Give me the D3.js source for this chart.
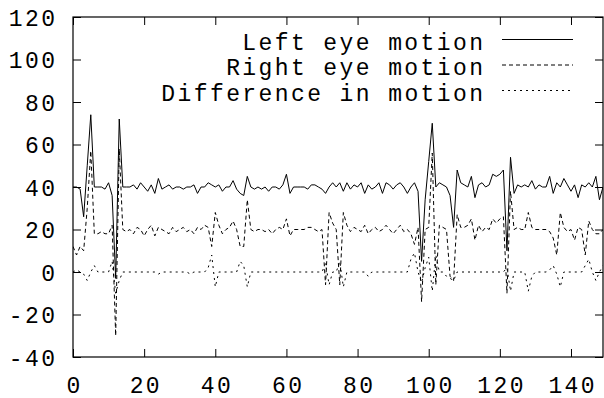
<!DOCTYPE html>
<html>
<head>
<meta charset="utf-8">
<script src="https://cdn.jsdelivr.net/npm/d3@7"></script>
<style>
  body { margin: 0; background: #fff; }
  text { font-family: "Liberation Mono", "DejaVu Sans Mono", monospace; }
</style>
</head>
<body>
<div id="chartContainer"></div>
<script>
var leftEye = [
  40, 40, 39, 26, 50, 74, 40, 40, 40, 39,
  42, 36, -3, 72, 40, 40, 40, 41, 39, 42,
  40, 38, 41, 37, 44, 39, 40, 41, 39, 40,
  40, 39, 40, 40, 41, 37, 40, 40, 42, 41,
  40, 41, 38, 40, 40, 43, 39, 37, 36, 45,
  40, 39, 40, 39, 40, 38, 40, 40, 39, 41,
  46, 37, 40, 40, 40, 40, 39, 41, 41, 40,
  39, 37, 40, 42, 40, 42, 38, 42, 39, 41,
  40, 42, 37, 41, 39, 40, 42, 37, 42, 41,
  39, 41, 42, 40, 37, 40, 42, 38, 5, 34,
  52, 70, 40, 42, 41, 40, 36, 21, 48, 42,
  41, 40, 45, 35, 41, 42, 40, 41, 46, 45,
  46, 48, 10, 54, 37, 41, 40, 41, 40, 43,
  39, 41, 40, 40, 45, 37, 42, 40, 44, 41,
  38, 41, 35, 41, 40, 42, 40, 45, 34, 40
];
var rightEye = [
  12, 8, 12, 10, 30, 57, 18, 18, 19, 18,
  18, 22, -30, 58, 20, 19, 20, 18, 21, 20,
  17, 20, 22, 17, 21, 20, 19, 18, 21, 19,
  20, 21, 19, 20, 18, 21, 20, 22, 21, 12,
  28, 22, 18, 20, 21, 24, 20, 12, 12, 34,
  20, 19, 20, 20, 19, 20, 18, 20, 21, 20,
  25, 17, 20, 20, 20, 20, 21, 21, 20, 19,
  20, -6, 28, 23, 20, -6, 28, 22, 19, 21,
  20, 19, 22, 18, 20, 21, 19, 20, 22, 20,
  18, 20, 22, 19, 20, 18, 13, 21, -14, 20,
  21, 56, -6, 22, 21, 20, -2, -4, 27, 21,
  21, 22, 25, 15, 22, 19, 21, 20, 25, 23,
  25, 26, -10, 38, 20, 21, 20, 20, 28, 21,
  20, 20, 20, 20, 19, 16, 8, 28, 21, 19,
  20, 15, 21, 20, 8, 24, 20, 18, 18, 20
];
var difference = [
  0, 1, 0, -1, -4, 0, 3, 0, 0, 0,
  0, 5, -10, -4, 0, 0, 0, 0, 0, 0,
  0, 0, 0, 0, -1, 0, 0, 0, 0, 0,
  0, 0, 0, -1, 0, 0, 0, 0, 2, 8,
  -7, 0, 0, 0, 0, 0, 0, 5, 3, -7,
  0, 0, 0, 0, 0, 0, 0, 0, 0, 0,
  0, 0, 0, 0, 0, 0, 0, 0, 0, 0,
  0, 4, -6, 0, 0, 5, -7, 0, 0, 0,
  0, 0, 0, -2, 0, 0, 0, 0, 0, 0,
  0, 0, 0, 0, 0, 6, 9, 0, -5, 2,
  7, -9, 8, 0, 0, -2, -3, -4, 0, 0,
  0, 0, 0, 0, 0, 0, 0, 0, 0, 0,
  0, 0, 2, -9, 0, 0, 0, 0, -9, -2,
  0, 0, 0, 0, 1, 3, -1, -7, 0, 0,
  0, 0, 0, 0, 3, 6, 0, -4, 0, 3
];
var seriesNames = ["Left eye motion", "Right eye motion", "Difference in motion"];
var xTicks = [0, 20, 40, 60, 80, 100, 120, 140];
var yTicks = [-40, -20, 0, 20, 40, 60, 80, 100, 120];

function drawChart() {
  var margin = { top: 17, right: 1, bottom: 41, left: 73 };
  var width = 604 - margin.left - margin.right;
  var height = 398 - margin.top - margin.bottom;
  var fontSize = "23px";
  var spacing = 2.4;

  var svg = d3.select("#chartContainer")
    .append("svg")
    .attr("width", 604)
    .attr("height", 398)
    .append("g")
    .attr("transform", "translate(" + margin.left + "," + margin.top + ")");

  var x = d3.scaleLinear().domain([0, 149]).range([0, width]);
  var y = d3.scaleLinear().domain([-40, 120]).range([height, 0]);

  // gnuplot style ticks: inward, mirrored on all sides
  var bottom = svg.append("g")
    .attr("transform", "translate(0," + height + ")")
    .call(d3.axisBottom(x).tickValues(xTicks).tickSize(-8).tickFormat(d3.format("d")));
  bottom.selectAll("text").attr("y", 36).attr("dy", 0).attr("dx", spacing / 2);

  var left = svg.append("g")
    .call(d3.axisLeft(y).tickValues(yTicks).tickSize(-8).tickFormat(function(d) { return d < 0 ? "-" + Math.abs(d) : d; }));
  left.selectAll("text").attr("x", -18 + spacing).attr("dy", "0.36em");

  svg.append("g")
    .call(d3.axisTop(x).tickValues(xTicks).tickSize(-8).tickFormat(""));
  svg.append("g")
    .attr("transform", "translate(" + width + ",0)")
    .call(d3.axisRight(y).tickValues(yTicks).tickSize(-8).tickFormat(""));

  svg.selectAll(".domain").remove();
  svg.selectAll(".tick line").attr("stroke", "#000");
  svg.selectAll(".tick text")
    .attr("font-family", "Liberation Mono, monospace")
    .attr("font-size", fontSize)
    .attr("letter-spacing", spacing)
    .attr("fill", "#000");

  svg.append("rect")
    .attr("x", 0)
    .attr("y", 0)
    .attr("width", width)
    .attr("height", height)
    .attr("fill", "none")
    .attr("stroke", "#000")
    .attr("stroke-width", 1.2);

  svg.append("clipPath").attr("id", "clip")
    .append("rect").attr("width", width).attr("height", height);

  var line = d3.line()
    .x(function(d, i) { return x(i); })
    .y(function(d) { return y(d); });

  var series = [leftEye, rightEye, difference];
  var dashes = [null, "4,3", "2,4"];

  svg.append("g")
    .attr("clip-path", "url(#clip)")
    .selectAll("path")
    .data(series)
    .enter()
    .append("path")
    .attr("d", line)
    .attr("fill", "none")
    .attr("stroke", "#000")
    .attr("stroke-width", 1)
    .attr("stroke-dasharray", function(d, i) { return dashes[i]; });

  // key, top right, text right-aligned before the sample line
  var key = svg.append("g");
  var rowBase = [32.5, 58, 83.5];
  seriesNames.forEach(function(name, i) {
    key.append("text")
      .attr("x", 410 + spacing)
      .attr("y", rowBase[i])
      .attr("text-anchor", "end")
      .attr("font-size", fontSize)
      .attr("letter-spacing", spacing)
      .attr("fill", "#000")
      .text(name);
    key.append("line")
      .attr("x1", 429)
      .attr("x2", 500)
      .attr("y1", rowBase[i] - 10)
      .attr("y2", rowBase[i] - 10)
      .attr("stroke", "#000")
      .attr("stroke-width", 1)
      .attr("stroke-dasharray", dashes[i]);
  });
}

drawChart();
</script>
</body>
</html>
